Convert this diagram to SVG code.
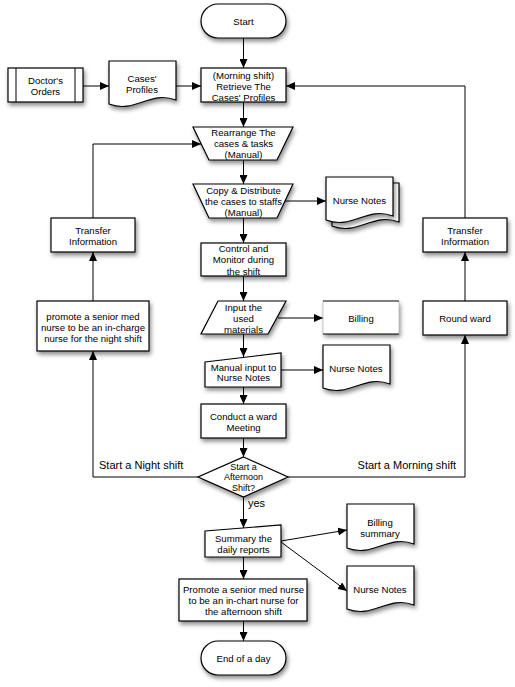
<svg xmlns="http://www.w3.org/2000/svg" width="515" height="687" viewBox="0 0 515 687">
<defs>
<filter id="sh" x="-20%" y="-20%" width="150%" height="160%">
<feDropShadow dx="1.5" dy="3" stdDeviation="2" flood-color="#000" flood-opacity="0.45"/>
</filter>
<marker id="ar" markerUnits="userSpaceOnUse" markerWidth="10" markerHeight="8" refX="9" refY="4" orient="auto">
<path d="M0,0 L9,4 L0,8 Z" fill="#000"/>
</marker>
</defs>
<style>
.s{fill:#fff;stroke:#000;stroke-width:1.2;filter:url(#sh)}
.t{font-family:"Liberation Sans",Arial,sans-serif;font-size:9.6px;fill:#000;text-anchor:middle;dominant-baseline:central}
.l{font-family:"Liberation Sans",Arial,sans-serif;font-size:11px;fill:#000;dominant-baseline:central}
.d{font-size:9px}
.c{fill:none;stroke:#000;stroke-width:1;marker-end:url(#ar)}
.n{fill:none;stroke:#000;stroke-width:1}
</style>
<rect width="515" height="687" fill="#fff"/>
<g id="connectors">
<path class="c" d="M243.5,38 V68"/>
<path class="c" d="M83,86 H109"/>
<path class="c" d="M176,86 H201"/>
<path class="c" d="M243.5,102 V127"/>
<path class="c" d="M243.5,160 V184"/>
<path class="c" d="M283,201 H326"/>
<path class="c" d="M243.5,218 V243"/>
<path class="c" d="M243.5,276 V301"/>
<path class="c" d="M278,318 H323"/>
<path class="c" d="M243.5,334 V357"/>
<path class="c" d="M281,370 H323"/>
<path class="c" d="M243.5,387 V404"/>
<path class="c" d="M243.5,438 V457"/>
<path class="c" d="M243.5,497 V528"/>
<path class="c" d="M281,541 L347,530"/>
<path class="c" d="M281,542 L347,591"/>
<path class="c" d="M243.5,557 V579"/>
<path class="c" d="M243.5,621 V641"/>
<path class="c" d="M198,477 H93 V351"/>
<path class="c" d="M288,477 H465 V335"/>
<path class="c" d="M93,301 V252"/>
<path class="c" d="M93,218 V144 H201"/>
<path class="c" d="M465,301 V252"/>
<path class="c" d="M465,218 V86 H286"/>
<text class="l" x="99" y="465">Start a Night shift</text>
<text class="l" x="456" y="465" text-anchor="end">Start a Morning shift</text>
<text class="l" x="248" y="503">yes</text>
</g>
<g id="start">
<rect class="s" x="201" y="4" width="85" height="34" rx="17"/>
<text class="t" x="243.5" y="21">Start</text>
</g>
<g id="doctors-orders">
<rect class="s" x="8" y="68" width="75" height="34"/>
<path class="n" d="M16,68 V102 M75,68 V102"/>
<text class="t" x="45.5" y="80">Doctor's</text>
<text class="t" x="45.5" y="91">Orders</text>
</g>
<g id="cases-profiles">
<path class="s" d="M109,61 H176 V100 C149,90 136,114 109,104 Z"/>
<text class="t" x="142" y="78">Cases'</text>
<text class="t" x="142" y="89">Profiles</text>
</g>
<g id="retrieve">
<rect class="s" x="201" y="68" width="85" height="34"/>
<text class="t" x="243.5" y="75">(Morning shift)</text>
<text class="t" x="243.5" y="86">Retrieve The</text>
<text class="t" x="243.5" y="97">Cases' Profiles</text>
</g>
<g id="rearrange">
<path class="s" d="M193,127 H293 L277,160 H209 Z"/>
<text class="t" x="243.5" y="132">Rearrange The</text>
<text class="t" x="243.5" y="143">cases &amp; tasks</text>
<text class="t" x="243.5" y="154">(Manual)</text>
</g>
<g id="copy-distribute">
<path class="s" d="M193,184 H293 L277,218 H209 Z"/>
<text class="t" x="243.5" y="190">Copy &amp; Distribute</text>
<text class="t" x="243.5" y="201">the cases to staffs</text>
<text class="t" x="243.5" y="212">(Manual)</text>
</g>
<g id="nurse-notes-1">
<path class="s" d="M332,183 H399 V222 C372,212 359,236 332,226 Z"/>
<path class="s" d="M326,177 H393 V216 C366,206 353,230 326,220 Z"/>
<text class="t" x="359.5" y="200">Nurse Notes</text>
</g>
<g id="transfer-left">
<rect class="s" x="51" y="218" width="84" height="34"/>
<text class="t" x="93" y="230">Transfer</text>
<text class="t" x="93" y="241">Information</text>
</g>
<g id="transfer-right">
<rect class="s" x="423" y="218" width="84" height="34"/>
<text class="t" x="465" y="230">Transfer</text>
<text class="t" x="465" y="241">Information</text>
</g>
<g id="control-monitor">
<rect class="s" x="201" y="243" width="85" height="33"/>
<text class="t" x="243.5" y="248">Control and</text>
<text class="t" x="243.5" y="259">Monitor during</text>
<text class="t" x="243.5" y="271">the shift</text>
</g>
<g id="input-materials">
<path class="s" d="M218,301 H286 L268,334 H201 Z"/>
<text class="t" x="243.5" y="307">Input the</text>
<text class="t" x="243.5" y="318">used</text>
<text class="t" x="243.5" y="329">materials</text>
</g>
<g id="billing">
<rect x="323" y="301" width="76" height="33" fill="#fff" filter="url(#sh)"/>
<path d="M323,301 V334 M399,301 V334" stroke="#bbb" stroke-width="0.8"/>
<path d="M323,301 H399 M323,334 H399" stroke="#000" stroke-width="1.2"/>
<text class="t" x="361" y="318">Billing</text>
</g>
<g id="promote-night">
<rect class="s" x="37" y="301" width="112" height="50"/>
<text class="t" x="93" y="316">promote a senior med</text>
<text class="t" x="93" y="327">nurse to be an in-charge</text>
<text class="t" x="93" y="338">nurse for the night shift</text>
</g>
<g id="round-ward">
<rect class="s" x="423" y="301" width="84" height="34"/>
<text class="t" x="465" y="318">Round ward</text>
</g>
<g id="manual-input">
<path class="s" d="M205,362 L281,353 V387 H205 Z"/>
<text class="t" x="243.5" y="367">Manual input to</text>
<text class="t" x="243.5" y="377">Nurse Notes</text>
</g>
<g id="nurse-notes-2">
<path class="s" d="M323,345 H390 V384 C363,374 350,398 323,388 Z"/>
<text class="t" x="356" y="368">Nurse Notes</text>
</g>
<g id="conduct-meeting">
<rect class="s" x="201" y="404" width="85" height="34"/>
<text class="t" x="243.5" y="416">Conduct a ward</text>
<text class="t" x="243.5" y="427">Meeting</text>
</g>
<g id="decision">
<path class="s" d="M243.5,457 L288,477 L243.5,497 L198,477 Z"/>
<text class="t d" x="243.5" y="467">Start a</text>
<text class="t d" x="243.5" y="477">Afternoon</text>
<text class="t d" x="243.5" y="488">Shift?</text>
</g>
<g id="summary">
<path class="s" d="M205,531 L281,525 V557 H205 Z"/>
<text class="t" x="243.5" y="538">Summary the</text>
<text class="t" x="243.5" y="549">daily reports</text>
</g>
<g id="billing-summary">
<path class="s" d="M347,504 H414 V544 C387,534 374,558 347,548 Z"/>
<text class="t" x="380" y="522">Billing</text>
<text class="t" x="380" y="533">summary</text>
</g>
<g id="nurse-notes-3">
<path class="s" d="M347,566 H414 V605 C387,595 374,619 347,609 Z"/>
<text class="t" x="380" y="589">Nurse Notes</text>
</g>
<g id="promote-afternoon">
<rect class="s" x="179" y="579" width="128" height="42"/>
<text class="t" x="243.5" y="589">Promote a senior med nurse</text>
<text class="t" x="243.5" y="600">to be an in-chart nurse for</text>
<text class="t" x="243.5" y="611">the afternoon shift</text>
</g>
<g id="end">
<rect class="s" x="201" y="641" width="85" height="34" rx="17"/>
<text class="t" x="243.5" y="658">End of a day</text>
</g>
</svg>
